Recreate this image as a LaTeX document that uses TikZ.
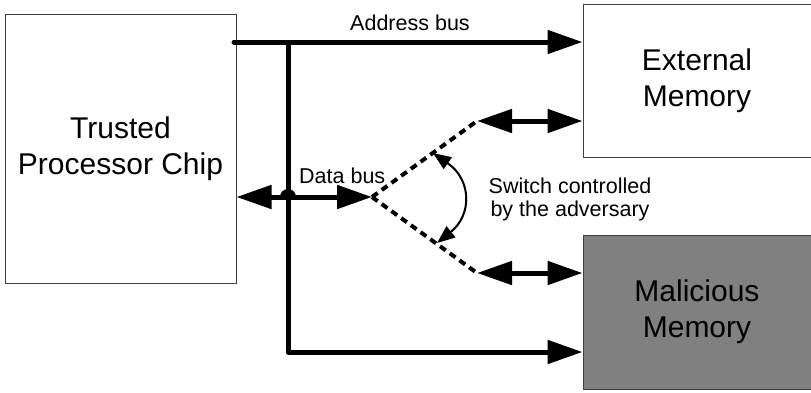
\documentclass[tikz,border=0pt]{standalone}
\usepackage{fontspec}
\setmainfont{Liberation Sans}
\usetikzlibrary{arrows.meta}
\tikzset{
  box/.style={draw=black!75, line width=1pt, rectangle, inner sep=0pt, align=center,
    font=\fontsize{30}{36}\selectfont},
  bus/.style={line width=5pt, draw=black},
  tipA/.style={-{Triangle[length=35pt,width=23pt]}},
  tipB/.style={{Triangle[length=35pt,width=23pt]}-{Triangle[length=35pt,width=23pt]}},
  dashline/.style={line width=4pt, dash pattern=on 7pt off 5pt},
  lbl/.style={font=\fontsize{21.5}{23}\selectfont, inner sep=0pt, align=center},
}
\begin{document}
\begin{tikzpicture}[x=1pt,y=-1pt]
\useasboundingbox (0,0) rectangle (811,392);
% boxes
\node[box, minimum width=231pt, minimum height=269pt] (chip) at (120.5,148.5) {Trusted\\Processor Chip};
\node[box, minimum width=228pt, minimum height=153pt] (ext) at (697,80.5) {External\\Memory};
\node[box, fill=black!50, minimum width=228pt, minimum height=154pt] (mal) at (697,312) {Malicious\\Memory};
% coordinates
\coordinate (a0) at (234,42);
\coordinate (j1) at (288,42);
\coordinate (j2) at (288,352);
\coordinate (d0) at (288,197);
\coordinate (hl) at (280,197);
\coordinate (sw) at (372,197);
\coordinate (u1) at (477,121);
\coordinate (l1) at (477,273);
\coordinate (s1) at (433,153);
\coordinate (s2) at (437,243);
% address bus
\draw[bus, tipA, line cap=round] (a0) -- (a0 -| ext.west);
\draw[bus, tipA, line join=round] (j1) -- (j2) -- (j2 -| mal.west);
% data bus
\draw[bus, tipA] (d0) -- (d0 -| chip.east);
\draw[bus, tipA] (d0) -- (sw);
\fill (hl) arc[start angle=180, end angle=0, radius=8pt] -- cycle;
% switch lines
\draw[dashline] (sw) -- (u1);
\draw[dashline] (sw) -- (l1);
\draw[bus, tipB] (u1) -- (u1 -| ext.west);
\draw[bus, tipB] (l1) -- (l1 -| mal.west);
% switch arrow
\draw[line width=2pt, {Triangle[length=18pt,width=14pt]}-{Triangle[length=18pt,width=14pt]}]
  (s1) .. controls (472,180) and (472,215) .. (s2);
% labels
\node[lbl, anchor=base] (abl) at (410,30) {Address bus};
\node[lbl, anchor=base west] (dbl) at (299,183) {Data bus};
\node[lbl] (swl) at (570,199) {Switch controlled\\by the adversary};
\end{tikzpicture}
\end{document}
